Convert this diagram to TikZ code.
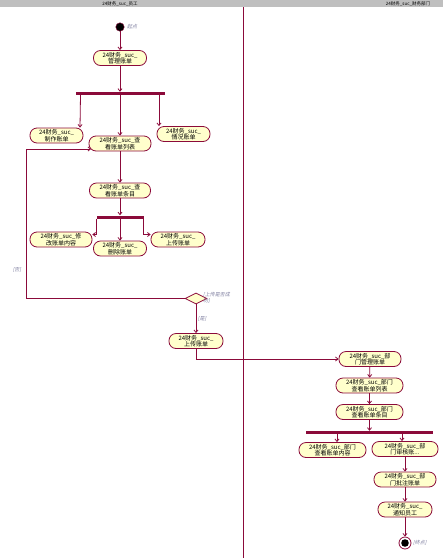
\documentclass[tikz,border=0pt]{standalone}
\usepackage{fontspec}
\setmainfont{Noto Sans CJK SC}[AutoFakeSlant=0.2]
\usetikzlibrary{arrows.meta,shapes.geometric}
\definecolor{umlred}{HTML}{8B0A3A}
\definecolor{umlfill}{HTML}{FFFFCC}
\definecolor{guardc}{HTML}{7F7FA0}
\begin{document}
\begin{tikzpicture}[x=1pt,y=-1pt,
  act/.style={draw=umlred, fill=umlfill, line width=0.8pt, rounded corners=7pt, minimum height=15pt, inner sep=0pt, align=center, font=\fontsize{6}{6.5}\selectfont},
  bar/.style={fill=umlred, inner sep=0pt, minimum height=3pt},
  flow/.style={draw=umlred, line width=0.8pt, -{Straight Barb[length=2.5pt,width=4pt]}},
  guard/.style={text=guardc, font=\fontsize{5}{5.5}\selectfont\itshape, inner sep=0pt, align=left}]
\useasboundingbox (0,0) rectangle (443,558);
\fill[black!25] (0,0) rectangle (443,7);
\node[font=\fontsize{4.5}{5}\selectfont] (h1) at (120,3.5) {24财务\_suc\_员工};
\node[font=\fontsize{4.5}{5}\selectfont] (h2) at (408,3.5) {24财务\_suc\_财务部门};
\draw[umlred, line width=0.8pt] (243,7) -- (243,558);
% employee lane
\node[circle, fill=black, draw=umlred, minimum size=8.5pt, inner sep=0pt] (s0) at (120,27) {};
\node[guard, anchor=west] (s1) at (127,27) {起点};
\node[act, minimum width=53pt] (a) at (120,58) {24财务\_suc\_\\管理账单};
\node[bar, minimum width=89pt] (b) at (120,93.5) {};
\node[act, minimum width=53pt] (c) at (56.5,135.5) {24财务\_suc\_\\制作账单};
\node[act, minimum width=62pt] (e) at (120,143.5) {24财务\_suc\_查\\看账单列表};
\node[act, minimum width=53pt] (d) at (183.5,134) {24财务\_suc\_\\情况账单};
\node[act, minimum width=61pt] (f) at (120,190.5) {24财务\_suc\_查\\看账单条目};
\node[bar, minimum width=47pt] (g) at (120,217) {};
\node[act, minimum width=62pt] (h) at (61,239.5) {24财务\_suc\_修\\改账单内容};
\node[act, minimum width=53pt] (j) at (120,248.5) {24财务\_suc\_\\删除账单};
\node[act, minimum width=54pt] (k) at (178,239.5) {24财务\_suc\_\\上传账单};
\node[diamond, draw=umlred, fill=umlfill, line width=0.8pt, minimum width=22pt, minimum height=11pt, inner sep=0pt] (m) at (196,298.5) {};
\node[guard, anchor=north west] (q) at (203,292.5) {[上传是否成\\功]};
\node[guard] (no) at (17,270) {[否]};
\node[guard] (yes) at (202,319) {[是]};
\node[act, minimum width=54pt] (i) at (196,341) {24财务\_suc\_\\上传账单};
\coordinate (lp) at (26,149);
% department lane
\node[act, minimum width=62pt] (n) at (370,359) {24财务\_suc\_部\\门管理账单};
\node[act, minimum width=67pt] (o) at (369.5,385.5) {24财务\_suc\_部门\\查看账单列表};
\node[act, minimum width=67pt] (p) at (369.5,412) {24财务\_suc\_部门\\查看账单条目};
\node[bar, minimum width=127pt] (r) at (369.5,432.5) {};
\node[act, minimum width=67pt] (t) at (332.5,450) {24财务\_suc\_部门\\查看账单内容};
\node[act, minimum width=66pt] (u) at (405,449) {24财务\_suc\_部\\门审核账...};
\node[act, minimum width=62pt] (v) at (405,479.5) {24财务\_suc\_部\\门批注账单};
\node[act, minimum width=54pt] (w) at (405,509.5) {24财务\_suc\_\\通知员工};
\node[circle, draw=umlred, line width=0.8pt, minimum size=12pt, inner sep=0pt] (z) at (405,543) {};
\fill[black] (z.center) circle (3.8pt);
\node[guard, anchor=west] (z1) at (413,543) {[终点]};
% flows
\draw[flow] (s0) -- (a);
\draw[flow] (a) -- (b);
\draw[flow] ([xshift=-39.5pt]b.south) -- ([xshift=23.5pt]c.north);
\draw[flow] (b) -- (e);
\draw[flow] ([xshift=39pt]b.south) -- ([xshift=-24.5pt]d.north);
\draw[flow] (e) -- (f);
\draw[flow] (f) -- (g);
\draw[flow] ([xshift=0.5pt]g.south west) |- ([yshift=5pt]h.east);
\draw[flow] (g) -- (j);
\draw[flow] ([xshift=-0.5pt]g.south east) |- ([yshift=5pt]k.west);
\draw[flow] (m.west) -| (lp) -- ([xshift=2.5pt,yshift=-5.5pt]e.west);
\draw[flow] (m) -- (i);
\draw[flow] (i.south) |- (n.west);
\draw[flow] (n) -- (o);
\draw[flow] (o) -- (p);
\draw[flow] (p) -- (r);
\draw[flow] ([xshift=-32.5pt]r.south) -- ([xshift=4.5pt]t.north);
\draw[flow] ([xshift=32.5pt]r.south) -- ([xshift=-3pt]u.north);
\draw[flow] (u) -- (v);
\draw[flow] (v) -- (w);
\draw[flow] (w) -- (z);
\end{tikzpicture}
\end{document}
